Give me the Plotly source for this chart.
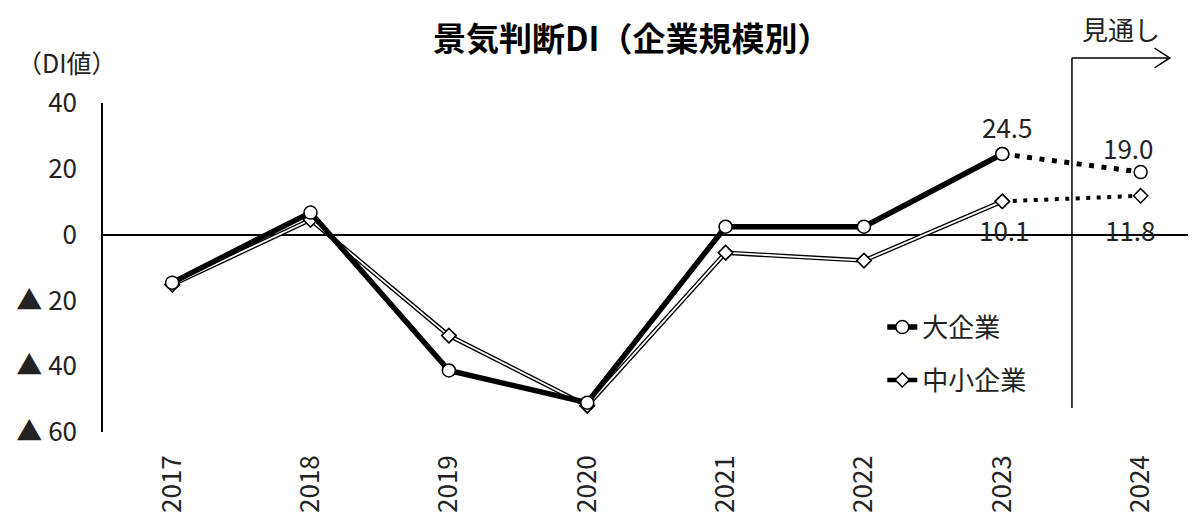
import plotly.graph_objects as go

years = ["2017", "2018", "2019", "2020", "2021", "2022", "2023", "2024"]
large = [-14.6, 6.7, -41.3, -51.1, 2.4, 2.4, 24.5, 19.0]
small = [-15.2, 4.5, -30.7, -52.0, -5.5, -7.9, 10.1, 11.8]
ytick_vals = [40, 20, 0, -20, -40, -60]
ytick_text = ["40", "20", "0", "▲ 20", "▲ 40", "▲ 60"]

FONT = "Noto Sans CJK JP"
FS = 26
TXT = "#222"

fig = go.Figure()

# 中小企業: double line (black outer + white inner)
fig.add_trace(go.Scatter(
    x=years[:7], y=small[:7], mode="lines+markers", name="中小企業",
    line=dict(color="black", width=4.5),
    marker=dict(symbol="diamond", size=11, color="white", line=dict(color="black", width=1.5)),
    legendgroup="b", legendrank=2, hoverinfo="skip"))
fig.add_trace(go.Scatter(
    x=years[:7], y=small[:7], mode="lines", showlegend=False,
    line=dict(color="white", width=1.8), hoverinfo="skip"))
fig.add_trace(go.Scatter(
    x=years[6:], y=small[6:], mode="lines", showlegend=False,
    line=dict(color="black", width=4, dash="4px,6.5px"), hoverinfo="skip"))
fig.add_trace(go.Scatter(
    x=years, y=small, mode="markers", showlegend=False,
    marker=dict(symbol="diamond", size=11, color="white", line=dict(color="black", width=1.5)),
    hoverinfo="skip"))

# 大企業
fig.add_trace(go.Scatter(
    x=years[:7], y=large[:7], mode="lines+markers", name="大企業",
    line=dict(color="black", width=5.5),
    marker=dict(symbol="circle", size=13, color="white", line=dict(color="black", width=1.5)),
    legendgroup="a", legendrank=1, hoverinfo="skip"))
fig.add_trace(go.Scatter(
    x=years[6:], y=large[6:], mode="lines+markers", showlegend=False,
    line=dict(color="black", width=5, dash="5px,7.5px"),
    marker=dict(symbol="circle", size=13, color="white", line=dict(color="black", width=1.5)),
    hoverinfo="skip"))

# data labels (category axis: position by category index)
label_specs = [
    (6, large[6], 5, 27),
    (7, large[7], -12, 25),
    (6, small[6], 2, -28),
    (7, small[7], -10, -34),
]
for i, y, xs, ys in label_specs:
    fig.add_annotation(x=i, y=y, text=f"{y:.1f}", showarrow=False, xshift=xs, yshift=ys,
                       font=dict(family=FONT, size=FS, color=TXT),
                       xanchor="center", yanchor="middle")

# y axis unit label
fig.add_annotation(xref="paper", yref="paper", x=-0.033, y=1.126, text="（DI値）",
                   showarrow=False, font=dict(family=FONT, size=FS - 1, color=TXT),
                   xanchor="center", yanchor="middle")

# 見通し marker line + arrow
vx = 0.8865
fig.add_shape(type="line", xref="paper", yref="paper", x0=vx, x1=vx, y0=0.073, y1=1.137,
              line=dict(color="black", width=1.5))
fig.add_shape(type="line", xref="paper", yref="paper", x0=vx, x1=0.976, y0=1.137, y1=1.137,
              line=dict(color="black", width=1.5))
fig.add_shape(type="path", xref="paper", yref="paper",
              path="M 0.962 1.167 L 0.976 1.137 L 0.962 1.107",
              line=dict(color="black", width=1.5))
fig.add_annotation(xref="paper", yref="paper", x=0.931, y=1.226, text="見通し",
                   showarrow=False, font=dict(family=FONT, size=FS, color=TXT),
                   xanchor="center", yanchor="middle")

fig.update_layout(
    width=1188, height=506,
    margin=dict(l=95, r=0, t=95, b=82),
    paper_bgcolor="white", plot_bgcolor="white",
    title=dict(text="<b>景気判断DI（企業規模別）</b>", x=0.525, xanchor="center",
               yref="container", y=0.937, yanchor="middle",
               font=dict(family=FONT, size=33, color="black")),
    font=dict(family=FONT, size=FS, color=TXT),
    showlegend=True,
    legend=dict(x=0.713, y=0.39, xanchor="left", yanchor="top",
                traceorder="grouped", tracegroupgap=16,
                font=dict(family=FONT, size=FS, color=TXT),
                bgcolor="rgba(0,0,0,0)"),
    xaxis=dict(type="category", categoryorder="array", categoryarray=years,
               range=[-0.5, 7.4], showline=False, showgrid=False, zeroline=False,
               ticks="", tickangle=-90, ticklabelstandoff=17, automargin=False,
               tickfont=dict(family=FONT, size=FS, color=TXT)),
    yaxis=dict(range=[-60, 40], tickvals=ytick_vals, ticktext=ytick_text,
               showline=True, linecolor="black", linewidth=1.5,
               showgrid=False, zeroline=True, zerolinecolor="black", zerolinewidth=1.5,
               ticks="", ticklabelstandoff=19, automargin=False,
               tickfont=dict(family=FONT, size=FS, color=TXT)),
)

fig.write_html("out.html")
